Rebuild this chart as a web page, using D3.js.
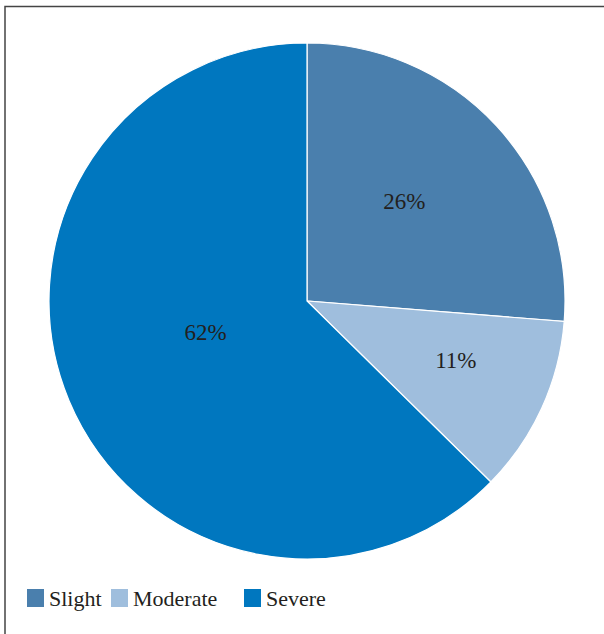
<!DOCTYPE html>
<html>
<head>
<meta charset="utf-8">
<script src="https://cdn.jsdelivr.net/npm/d3@7"></script>
<style>
    html, body { margin: 0; padding: 0; background: #fff; }
    .slice-label, .legend-label { font-family: "Liberation Serif", "DejaVu Serif", serif; fill: #231f20; }
</style>
</head>
<body>
<div class="widget"></div>
<script>
var categories = ["Slight", "Moderate", "Severe"];
var values = [26, 11, 62];
var labels = ["26%", "11%", "62%"];
var colors = ["#4a7fad", "#9fbedd", "#0077bf"];

(function() {
    var width = 604, height = 634;
    var cx = 307, cy = 301, radius = 258;
    // label placement (radius fraction, angle nudge in degrees) per slice
    var labelFrac = [0.54, 0.62, 0.41];
    var labelNudge = [-3, -3, 6];

    var svg = d3.select(".widget").append("svg")
        .attr("width", width)
        .attr("height", height)
        .style("display", "block");

    // frame, only the top and left edges sit inside the window
    svg.append("rect")
        .attr("x", 5)
        .attr("y", 6.5)
        .attr("width", width + 10)
        .attr("height", height + 10)
        .attr("fill", "none")
        .attr("stroke", "#444")
        .attr("stroke-width", 1.5);

    var pie = d3.pie().sort(null).value(function(d) { return d; });
    var arcs = pie(values);

    var arc = d3.arc().innerRadius(0).outerRadius(radius);

    var g = svg.append("g")
        .attr("transform", "translate(" + cx + "," + cy + ")");

    g.selectAll("path")
        .data(arcs)
        .enter().append("path")
        .attr("d", arc)
        .attr("fill", function(d, i) { return colors[i]; })
        .attr("stroke", "#fff")
        .attr("stroke-width", 1.2);

    g.selectAll("text")
        .data(arcs)
        .enter().append("text")
        .attr("class", "slice-label")
        .attr("text-anchor", "middle")
        .attr("dy", "0.35em")
        .style("font-size", "23px")
        .attr("transform", function(d, i) {
            var a = (d.startAngle + d.endAngle) / 2 + labelNudge[i] * Math.PI / 180;
            var r = radius * labelFrac[i];
            return "translate(" + (Math.sin(a) * r) + "," + (-Math.cos(a) * r) + ")";
        })
        .text(function(d, i) { return labels[i]; });

    // legend
    var legendX = [27, 111, 244];
    var legend = svg.append("g").attr("transform", "translate(0,589)");
    var item = legend.selectAll("g")
        .data(categories)
        .enter().append("g")
        .attr("transform", function(d, i) { return "translate(" + legendX[i] + ",0)"; });

    item.append("rect")
        .attr("width", 17)
        .attr("height", 18)
        .attr("fill", function(d, i) { return colors[i]; });

    item.append("text")
        .attr("class", "legend-label")
        .attr("x", 22)
        .attr("y", 17)
        .style("font-size", "22px")
        .text(function(d) { return d; });
})();
</script>
</body>
</html>
